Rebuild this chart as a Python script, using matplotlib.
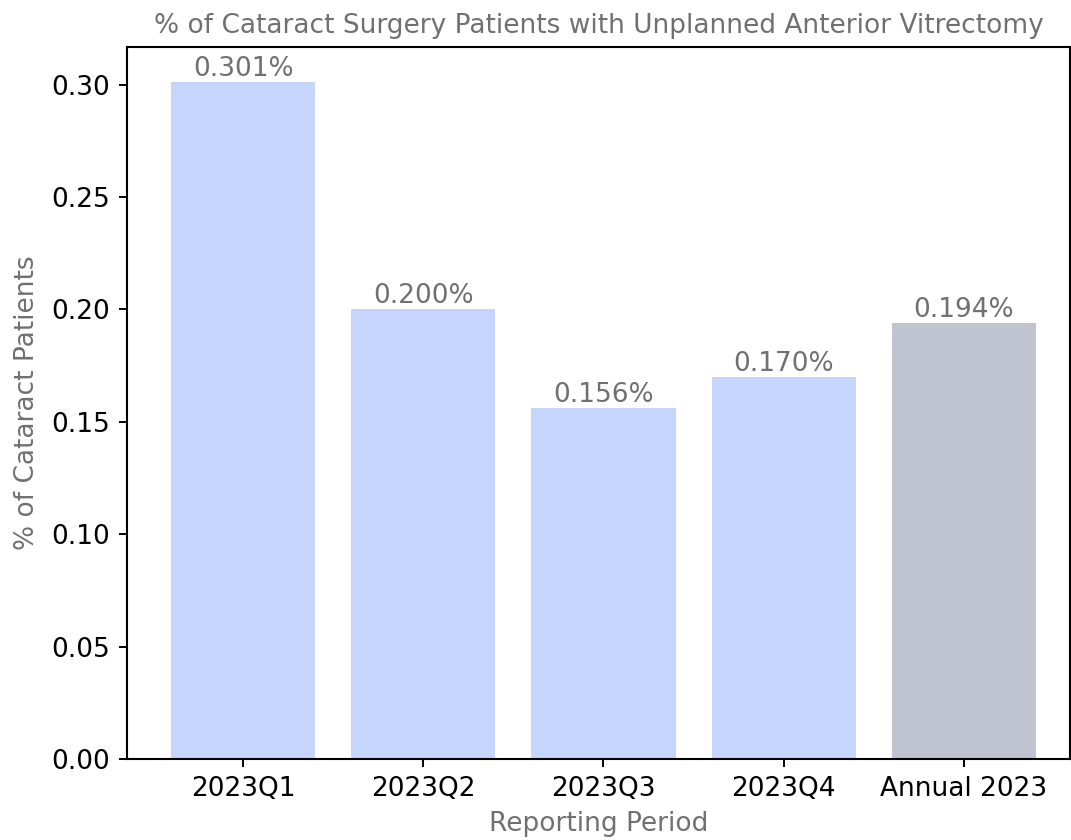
import matplotlib
matplotlib.use("Agg")
import matplotlib.pyplot as plt

# data
periods = ["2023Q1", "2023Q2", "2023Q3", "2023Q4", "Annual 2023"]
rates = [0.301, 0.200, 0.156, 0.170, 0.194]
bar_colors = ["#c5d5fc", "#c5d5fc", "#c5d5fc", "#c5d5fc", "#c0c4d0"]

GRAY = "#707070"
FS = 19

fig = plt.figure(figsize=(10.71, 8.4), dpi=100)
ax = fig.add_axes([127 / 1071, 81 / 840, 943 / 1071, 712 / 840])

bars = ax.bar(periods, rates, width=0.8, color=bar_colors)
for b, v in zip(bars, rates):
    ax.text(b.get_x() + b.get_width() / 2, v, f"{v:.3f}%",
            ha="center", va="bottom", fontsize=FS, color=GRAY)

ax.set_xlim(-0.645, 4.59)
ax.set_ylim(0, 0.3167)
ax.set_yticks([0.0, 0.05, 0.10, 0.15, 0.20, 0.25, 0.30])
ax.tick_params(axis="both", labelsize=FS, length=6, width=1.4, pad=6)
for s in ax.spines.values():
    s.set_linewidth(1.5)

ax.set_title("% of Cataract Surgery Patients with Unplanned Anterior Vitrectomy",
             fontsize=FS, color=GRAY, pad=10)
ax.set_xlabel("Reporting Period", fontsize=FS, color=GRAY, labelpad=7)
ax.set_ylabel("% of Cataract Patients", fontsize=FS, color=GRAY, labelpad=8)

fig.savefig("out.png", dpi=100, facecolor="white")
